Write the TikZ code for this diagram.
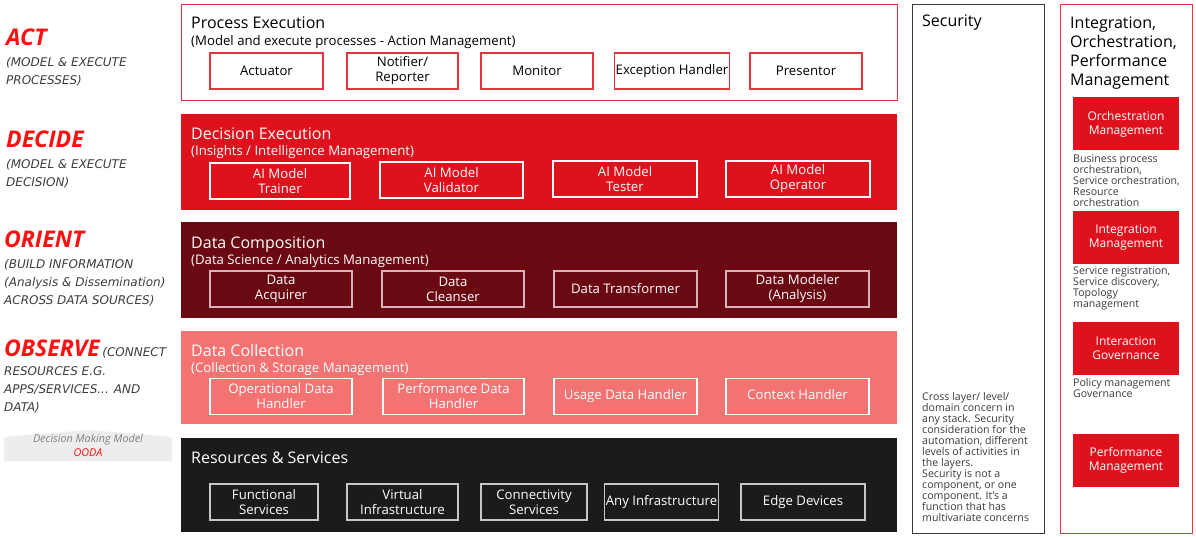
\documentclass[tikz,border=0pt]{standalone}
\usepackage{fontspec}
\setmainfont{Open Sans}
\newfontfamily\notefont{DejaVu Sans}
\usetikzlibrary{positioning}
\definecolor{boxred}{HTML}{E8323C}
\definecolor{decred}{HTML}{DF111D}
\definecolor{commaroon}{HTML}{6A0911}
\definecolor{colsalmon}{HTML}{F37373}
\definecolor{resblack}{HTML}{1B1B1B}
\definecolor{secgray}{HTML}{3A3A3A}
\definecolor{oodared}{HTML}{FF1010}
\definecolor{notegray}{HTML}{3C3C3C}
\definecolor{oodagray}{HTML}{EDEDED}
\tikzset{font=\small}
\tikzset{
  layer/.style={anchor=north west, minimum width=716, minimum height=96, inner sep=0},
  ltitle/.style={anchor=base west, inner sep=0, font=\fontsize{16}{18}\selectfont},
  lsub/.style={anchor=base west, inner sep=0, font=\fontsize{13.2}{15}\selectfont},
  comp/.style={draw, line width=1.1pt, minimum height=36, align=center, inner sep=1,
    font=\fontsize{13.2}{15}\selectfont},
  oodaword/.style={anchor=base west, inner sep=0, text=oodared, font=\fontsize{23}{26}\bfseries\itshape\selectfont},
  oodanote/.style={anchor=north west, inner sep=0, align=left, text=notegray,
    font=\notefont\fontsize{12}{18}\itshape\selectfont},
  sidebox/.style={anchor=north west, minimum width=132, minimum height=529, inner sep=0, fill=white},
  mgmt/.style={fill=decred, text=white, minimum width=106, minimum height=53, align=center,
    inner sep=1, font=\fontsize{12}{14}\selectfont},
  mgmtnote/.style={anchor=north west, inner sep=0, align=left, text=notegray,
    font=\fontsize{10.6}{11}\selectfont}
}

\begin{document}
\begin{tikzpicture}[x=1pt,y=-1pt]
  \useasboundingbox (0,0) rectangle (1196,537);

  % OODA words on the left
  \node[oodaword] (act) at (6,46) {ACT};
  \node[oodanote] (actnote) at (6,57) {(MODEL \& EXECUTE\\PROCESSES)};
  \node[oodaword] (decide) at (6,148) {DECIDE};
  \node[oodanote] (decidenote) at (6,159) {(MODEL \& EXECUTE\\DECISION)};
  \node[oodaword] (orient) at (4,248) {ORIENT};
  \node[oodanote] (orientnote) at (4,259) {(BUILD INFORMATION\\(Analysis \& Dissemination)\\ACROSS DATA SOURCES)};
  \node[oodaword] (observe) at (4,356) {OBSERVE};
  \node[oodanote, anchor=base west] (observecon) at (observe.base east) {\,(CONNECT};
  \node[oodanote] (observenote) at (4,366) {RESOURCES E.G.\\APPS/SERVICES... AND\\DATA)};

  \fill[oodagray] (4,437) -- (88,430) -- (172,437) -- (172,461) -- (4,461) -- cycle;
  \node[text=gray, font=\fontsize{10.8}{12}\itshape\selectfont] (dmm) at (88,440) {Decision Making Model};
  \node[text=oodared, font=\fontsize{10.8}{12}\itshape\selectfont] (ooda) at (88,453) {OODA};

  % layer 1
  \node[layer, draw=boxred, line width=1.2pt, fill=white] (pe) at (181,4) {};
  \node[ltitle] (petitle) at (191,29) {Process Execution};
  \node[lsub] (pesub) at (191,46) {(Model and execute processes - Action Management)};
  \node[comp, draw=boxred, minimum width=113] (actuator) at (266.5,71) {Actuator};
  \node[comp, draw=boxred, minimum width=111] (notifier) at (402.5,71) {Notifier/\\Reporter};
  \node[comp, draw=boxred, minimum width=112] (monitor) at (537,71) {Monitor};
  \node[comp, draw=boxred, minimum width=114] (exception) at (672,71) {Exception Handler};
  \node[comp, draw=boxred, minimum width=112] (presentor) at (806,71) {Presentor};

  % layer 2
  \node[layer, fill=decred] (de) at (181,114) {};
  \node[ltitle, text=white] (detitle) at (191,140) {Decision Execution};
  \node[lsub, text=white] (desub) at (191,156) {(Insights / Intelligence Management)};
  \node[comp, draw=white, text=white, minimum width=140] (trainer) at (280,181) {AI Model\\Trainer};
  \node[comp, draw=white, text=white, minimum width=143] (validator) at (451.5,180) {AI Model\\Validator};
  \node[comp, draw=white, text=white, minimum width=144] (tester) at (625,179) {AI Model\\Tester};
  \node[comp, draw=white, text=white, minimum width=144] (operator) at (798,179) {AI Model\\Operator};

  % layer 3
  \node[layer, fill=commaroon] (dc) at (181,222) {};
  \node[ltitle, text=white] (dctitle) at (191,249) {Data Composition};
  \node[lsub, text=white] (dcsub) at (191,265) {(Data Science / Analytics Management)};
  \node[comp, draw=white!70!commaroon, text=white, minimum width=142] (acquirer) at (281,289) {Data\\Acquirer};
  \node[comp, draw=white!70!commaroon, text=white, minimum width=142] (cleanser) at (453,289) {Data\\Cleanser};
  \node[comp, draw=white!70!commaroon, text=white, minimum width=143] (transformer) at (625.5,289) {Data Transformer};
  \node[comp, draw=white!70!commaroon, text=white, minimum width=143] (modeler) at (797.5,289) {Data Modeler\\(Analysis)};

  % layer 4
  \node[layer, fill=colsalmon, minimum height=93] (col) at (181,331) {};
  \node[ltitle, text=white] (coltitle) at (191,356) {Data Collection};
  \node[lsub, text=white] (colsub) at (191,372) {(Collection \& Storage Management)};
  \node[comp, draw=white, text=white, minimum width=142] (operational) at (281,396.5) {Operational Data\\Handler};
  \node[comp, draw=white, text=white, minimum width=141] (performance) at (453.5,396.5) {Performance Data\\Handler};
  \node[comp, draw=white, text=white, minimum width=143] (usage) at (625.5,396.5) {\strut Usage Data Handler};
  \node[comp, draw=white, text=white, minimum width=143] (context) at (797.5,396.5) {\strut Context Handler};

  % layer 5
  \node[layer, fill=resblack, minimum height=94] (res) at (181,438) {};
  \node[ltitle, text=white] (restitle) at (191,463) {Resources \& Services};
  \node[comp, draw=white!75!resblack, text=white, minimum width=108] (functional) at (264,502) {Functional\\Services};
  \node[comp, draw=white!75!resblack, text=white, minimum width=111] (virtual) at (402.5,502) {Virtual\\Infrastructure};
  \node[comp, draw=white!75!resblack, text=white, minimum width=106] (connectivity) at (534,502) {Connectivity\\Services};
  \node[comp, draw=white!75!resblack, text=white, minimum width=113] (anyinfra) at (661.5,502) {\strut Any Infrastructure};
  \node[comp, draw=white!75!resblack, text=white, minimum width=124] (edge) at (803,502) {\strut Edge Devices};

  % security
  \node[sidebox, draw=secgray, line width=1.2pt] (sec) at (912,4) {};
  \node[ltitle] (sectitle) at (922,27) {Security};
  \node[mgmtnote, text=secgray] (secnote) at (922,392) {Cross layer/ level/\\domain concern in\\any stack. Security\\consideration for the\\automation, different\\levels of activities in\\the layers.\\Security is not a\\component, or one\\component. It's a\\function that has\\multivariate concerns};

  % integration, orchestration, performance
  \node[sidebox, draw=boxred, line width=1.2pt] (iop) at (1060,4) {};
  \node[anchor=north west, inner sep=0, align=left, font=\fontsize{16}{19}\selectfont] (ioptitle) at (1070,17) {Integration,\\Orchestration,\\Performance\\Management};
  \node[mgmt] (orch) at (1126,124) {Orchestration\\Management};
  \node[mgmtnote] (orchnote) at (1073,155) {Business process\\orchestration,\\Service orchestration,\\Resource\\orchestration};
  \node[mgmt] (integ) at (1126,238) {Integration\\Management};
  \node[mgmtnote] (integnote) at (1073,267) {Service registration,\\Service discovery,\\Topology\\management};
  \node[mgmt] (inter) at (1126,348) {Interaction\\Governance};
  \node[mgmtnote] (internote) at (1073,378) {Policy management\\Governance};
  \node[mgmt] (perf) at (1126,460) {Performance\\Management};

  % \draw[help lines] (0,0) grid[step=50] (1196,537);
\end{tikzpicture}
\end{document}
